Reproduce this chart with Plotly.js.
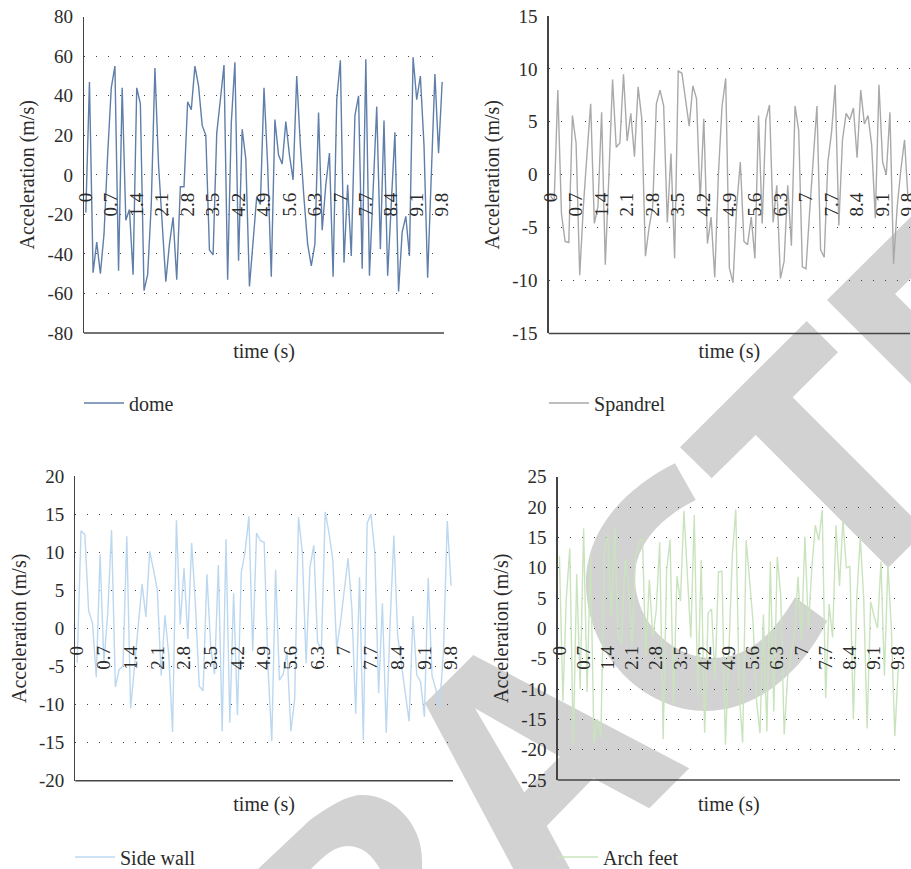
<!DOCTYPE html>
<html><head><meta charset="utf-8">
<script src="https://cdn.plot.ly/plotly-3.0.1.min.js"></script>
<style>html,body{margin:0;padding:0;background:#fff}</style></head>
<body><div id="chart" style="width:911px;height:869px"></div>
<script>
const times = ["0","0.1","0.2","0.3","0.4","0.5","0.6","0.7","0.8","0.9","1","1.1","1.2","1.3","1.4","1.5","1.6","1.7","1.8","1.9","2","2.1","2.2","2.3","2.4","2.5","2.6","2.7","2.8","2.9","3","3.1","3.2","3.3","3.4","3.5","3.6","3.7","3.8","3.9","4","4.1","4.2","4.3","4.4","4.5","4.6","4.7","4.8","4.9","5","5.1","5.2","5.3","5.4","5.5","5.6","5.7","5.8","5.9","6","6.1","6.2","6.3","6.4","6.5","6.6","6.7","6.8","6.9","7","7.1","7.2","7.3","7.4","7.5","7.6","7.7","7.8","7.9","8","8.1","8.2","8.3","8.4","8.5","8.6","8.7","8.8","8.9","9","9.1","9.2","9.3","9.4","9.5","9.6","9.7","9.8"];
const dome = [-19,47,-49.5,-34,-50,-30,10,44,55,-48.5,44,-23,-17.5,-50.5,44,36,-58.5,-50.5,-15,54,5,-25,-54,-35,-21.5,-53,-6,-6,37,33,55,45,25,20,-38,-40.5,21,38,55.5,-53,26,57,-43.5,23,8,-56.5,-35,-11,-15,44,5,-51.5,28,10,5.5,27,10,-2.5,50,15,-12,-35,-46,-35,31.5,-28,-5,11,-51.5,38,58,-44.5,-5,-41,30,40,-47.5,58.5,-51,-5,34.5,-37.5,27.5,-51,-17,21.5,-59,-29,-21,-41,59.5,38,50,15,-52,-5,51,11,47];
const spandrel = [-2,-2.5,8,-3.7,-6.3,-6.4,5.6,3,-9.5,-3,2,6.7,-4.6,-3,5.9,-8.5,0,9,2.6,3,9.5,3.2,5.8,1.7,8.3,5.3,-7.7,-5,-3,6.7,8,6.5,-4.5,2,-7.9,9.8,9.6,7,4.6,8.4,7.2,-2.5,5.3,-6.5,-4,-9.7,0,6.5,9.1,-8.8,-10.2,-3,1.2,-6.3,-6.6,-4,-7.9,5.6,-4.6,5.2,6.6,-4.5,-1,-9.8,-8.2,-1,-6.7,6.5,4.2,-8.7,-8.9,-3.5,1.5,6.5,-7.1,-7.8,1.2,4,8.5,-4.8,3.3,5.8,5.2,6.3,1.6,8,4.8,5.6,2.8,-4.1,8.5,1.2,0,5.9,-8.4,-3,0.5,3.3,-2.5];
const sideWall = [-4.5,12.8,12.3,2.3,0.7,-6.4,9.7,-4.5,2,12.9,-7.7,-5.4,-5,12.1,-10.5,-5,0,5.8,1.5,10.1,7.7,5,-6.2,1.7,-3.5,-13.6,14.2,0.5,7.9,-1.4,11.2,3,-7.6,-8.2,7.1,-2.5,-6,8.3,-13.5,11.7,-12.4,4.6,-11.4,7.3,10,14.7,-3,12.5,11.5,11.3,-5,-14.8,7.7,-6.8,-6,-3,-13.5,-9.3,14.6,10,-4.6,8,10.9,-1.8,-2.8,15.3,12.5,9,-2.6,0.7,5,9.2,2.5,-11.2,6.7,-14.7,13.8,15,10,-8.5,3.3,-13.7,0.5,12.2,-1,-4.5,-8.5,-12.2,1.6,-6.1,-7,-11.6,6.6,-6.2,-8,-10.3,-3,14.1,5.6];
const archFeet = [11.9,-12,5,13.2,-19.3,8.9,-10,16.5,-10.5,12,-19,-15,-18,13,15.5,2,16.5,-1.5,-2.5,11.5,7,-3,12,14,15,-4.5,8,-1.5,3,14.2,-18.3,9.5,14.6,-12.5,8.6,4.5,19.4,8,-1.5,18.7,-11,11.3,-17.2,2.5,3.2,-8.5,9.3,9.4,-19.2,-4,12,19.6,-11,-18.8,14.5,8,1,-12,-17.3,2.3,-17,11,-13.7,11.8,5.5,-17.5,-8,-4,-1,8.5,-1.8,15.1,0,10,17,14.5,19.5,-11.5,4,-1.5,17,7,17.8,10,10.2,-15,5,15,5,-16.5,4.4,2,0,11,-7.8,10.5,0,-17.8,-6.5];
const domeTicks = [-80,-60,-40,-20,0,20,40,60,80];
const spandrelTicks = [-15,-10,-5,0,5,10,15];
const sideWallTicks = [-20,-15,-10,-5,0,5,10,15,20];
const archFeetTicks = [-25,-20,-15,-10,-5,0,5,10,15,20,25];

const W = 911, H = 869;
const FONT = "Liberation Serif, serif", INK = "#2b2b2b";
const px = x => +(x / W).toFixed(5), py = y => +(1 - y / H).toFixed(5);

const panels = [
  {name:"dome", y:dome, ticks:domeTicks, color:"#5f7ea9", range:[-80,80], box:[84,444,16.7,333], zero:175, leg:[79,403]},
  {name:"Spandrel", y:spandrel, ticks:spandrelTicks, color:"#a9a9a9", range:[-15,15], box:[548.7,910,16,333.5], zero:175, leg:[544,403]},
  {name:"Side wall", y:sideWall, ticks:sideWallTicks, color:"#bcd8f0", range:[-20,20], box:[75.3,453,476,780.7], zero:628.3, leg:[70,857]},
  {name:"Arch feet", y:archFeet, ticks:archFeetTicks, color:"#c9e3bd", range:[-25,25], box:[557.7,900,476.7,780], zero:628.3, leg:[553,857]}
];

const traces = [], layout = {
  width:W, height:H, margin:{l:0,r:0,t:0,b:0,pad:0,autoexpand:false}, paper_bgcolor:"rgba(0,0,0,0)", plot_bgcolor:"rgba(0,0,0,0)",
  font:{family:FONT, size:18, color:INK}, showlegend:true, shapes:[], annotations:[]
};

panels.forEach((p,i) => {
  const s = i ? i+1 : "", xa = "xaxis"+s, ya = "yaxis"+s, lg = "legend"+s;
  const [l,r,t,b] = p.box;
  traces.push({type:"scatter", mode:"lines", name:p.name, x:times, y:p.y, xaxis:"x"+s, yaxis:"y"+s, legend:"legend"+s,
    line:{color:p.color, width:1.4}, hoverinfo:"skip"});
  layout[xa] = {type:"category", domain:[px(l),px(r)], anchor:"free", position:py(p.zero), range:[-0.5,98.5],
    tick0:0, dtick:7, tickangle:-90, showgrid:false, zeroline:false, showline:false, ticks:"", ticklabelstandoff:13,
    tickfont:{family:FONT,size:19,color:INK}, fixedrange:true,
    title:{text:"time (s)", font:{family:FONT,size:20,color:INK}, standoff:128}};
  layout[ya] = {domain:[py(b),py(t)], anchor:"x"+s, range:p.range, tickmode:"array", tickvals:p.ticks, ticktext:p.ticks.map(String),
    showgrid:true, griddash:"1px,11px", gridcolor:"#444", gridwidth:1, zeroline:false, showline:true, linecolor:"#444", linewidth:1.3, ticks:"",
    tickfont:{family:FONT,size:19,color:INK}, ticklabelstandoff:6, fixedrange:true,
    title:{text:"Acceleration (m/s)", font:{family:FONT,size:20,color:INK}, standoff:7}};
  layout[lg] = {x:px(p.leg[0]), y:py(p.leg[1]), xanchor:"left", yanchor:"middle", bgcolor:"rgba(0,0,0,0)", borderwidth:0,
    itemwidth:40, font:{family:FONT,size:20,color:INK}};
  layout.shapes.push({type:"line", xref:"x"+s+" domain", yref:"y"+s+" domain", x0:0, x1:1, y0:0, y1:0, layer:"above",
    line:{color:"#444", width:1.4}});
});

// grey diagonal watermark, given in page pixels
const poly = pts => pts.map((q,i)=>(i?"L":"M")+px(q[0])+" "+py(q[1])).join(" ")+" Z";
const curve = cmds => cmds.map(c => c[0]+" "+c.slice(1).map((v,k)=>k%2?py(v):px(v)).join(" ")).join(" ")+" Z";
const wmPaths = [
  poly([[806.7,321],[838,352.3],[792.7,397.3],[911,515.7],[911,545],[888.3,567.7],[755.7,435],[711.7,478.3],[680,447.3]]),
  poly([[911,216.7],[827,300],[911,384],[911,310],[895,294],[911,278.3]]),
  poly([[425,703.3],[473.3,655],[689.3,768.3],[649.3,808.3],[593.3,778.3],[546.7,826],[570,869],[513.3,869]])+" "+poly([[475,708.3],[560,756.7],[524.3,792.3]]),
  curve([["M",675,463.3],["C",625,488,586,530,586,583],["C",586,655,645,711,705,711],["C",755,711,800,675,827.3,621],["L",795,597.3],["C",770,640,745,658,713,658],["C",672,658,635,622,635,577],["C",635,545,660,518,695.7,500]]),
  curve([["M",258,869],["L",310,820],["C",335,802,350,795,362,795],["C",395,795,422,825,422,860],["L",422,869],["L",380,869],["C",372,855,362,846,348,846],["C",335,846,325,855,311,869]])
];
wmPaths.forEach(d => layout.shapes.push({type:"path", xref:"paper", yref:"paper", path:d, layer:"below", fillcolor:"#d2d2d2", fillrule:"evenodd", line:{width:0}}));

Plotly.newPlot("chart", traces, layout, {displayModeBar:false, staticPlot:true});
</script></body></html>
